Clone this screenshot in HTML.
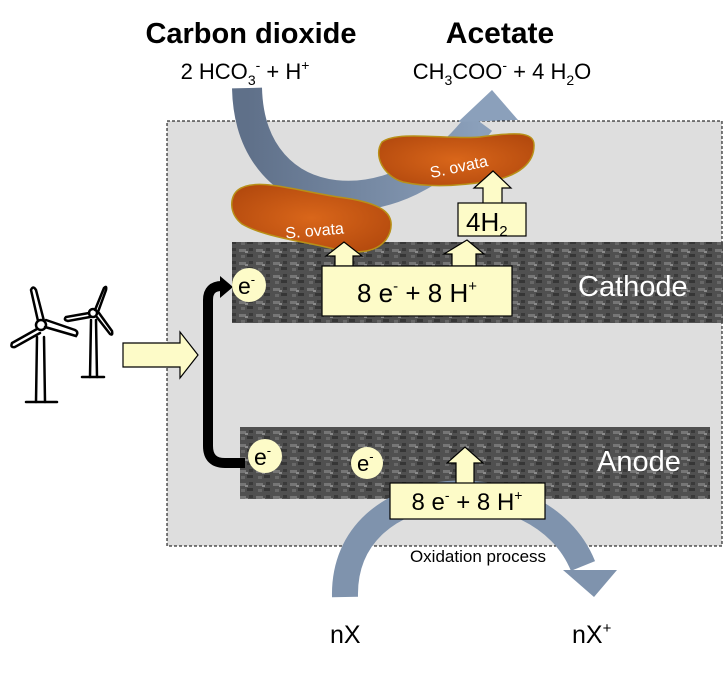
<!DOCTYPE html>
<html><head><meta charset="utf-8"><style>
body{margin:0;background:#fff;}
svg{display:block;font-family:"Liberation Sans",sans-serif;}
</style></head><body>
<svg width="723" height="676" viewBox="0 0 723 676" xmlns="http://www.w3.org/2000/svg">
<defs>
<pattern id="tex" width="17" height="13" patternUnits="userSpaceOnUse">
<rect width="17" height="13" fill="#505050"/>
<rect x="1" y="2" width="7" height="3" fill="#767676"/>
<rect x="9" y="7" width="6" height="3" fill="#363636"/>
<rect x="3" y="8" width="4" height="3" fill="#686868"/>
<rect x="11" y="1" width="4" height="3" fill="#3a3a3a"/>
<rect x="7" y="4" width="3" height="2" fill="#8a8a8a"/>
</pattern>
<linearGradient id="bl" x1="0" x2="1" y1="0" y2="0">
<stop offset="0" stop-color="#5f7089"/><stop offset="1" stop-color="#8ba0bb"/>
</linearGradient>
<radialGradient id="bac" cx="0.5" cy="0.5" r="0.6">
<stop offset="0" stop-color="#d9661a"/><stop offset="1" stop-color="#b44a0e"/>
</radialGradient>
</defs>
<rect x="167" y="121" width="555" height="425" fill="#dedede" stroke="#000" stroke-dasharray="3,2" stroke-width="1"/>
<rect x="232" y="242" width="491" height="81" fill="url(#tex)"/>
<rect x="240" y="427" width="470" height="72" fill="url(#tex)"/>
<!-- top arrow -->
<path d="M247 88 C250 220, 400 230, 480 122" fill="none" stroke="url(#bl)" stroke-width="30"/>
<polygon points="458,122 492,90 518,120" fill="#8ba0bb"/>
<!-- bottom arrow -->
<path d="M345 597 C342 470, 540 460, 583 566" fill="none" stroke="#7f93ad" stroke-width="26"/>
<polygon points="563,570 617,570 594,597" fill="#7f93ad"/>
<!-- bacteria -->
<path d="M238 190 C255 176,300 192,345 198 C385 204,395 215,390 232 C383 252,360 256,330 248 C300 241,262 236,242 224 C228 213,230 196,238 190Z" fill="url(#bac)" stroke="#b89018" stroke-width="1.5"/>
<text x="315" y="236" font-size="16" fill="#fff" transform="rotate(-5 315 236)" text-anchor="middle">S. ovata</text>
<path d="M382 142 C398 130,450 140,480 137 C512 133,535 130,534 146 C534 162,520 176,490 181 C460 186,430 188,403 182 C383 176,373 155,382 142Z" fill="url(#bac)" stroke="#b89018" stroke-width="1.5"/>
<text x="460" y="172" font-size="16" fill="#fff" transform="rotate(-12 460 172)" text-anchor="middle">S. ovata</text>
<!-- small arrows -->
<g fill="#fdfbc8" stroke="#000" stroke-width="1.2">
<polygon points="335,266 335,256 326,256 344,242 362,256 353,256 353,266"/>
<polygon points="452,266 452,254 444,254 467,240 484,254 476,254 476,266"/>
<polygon points="483,205 483,188 474,188 493,171 511,188 502,188 502,205"/>
<rect x="458" y="203" width="68" height="33"/>
<rect x="322" y="266" width="190" height="50"/>
<polygon points="456,486 456,463 447,463 465,447 483,463 474,463 474,486"/>
<rect x="390" y="483" width="155" height="36"/>
<polygon points="123,343 180,343 180,332 198,355 180,378 180,367 123,367"/>
</g>
<text x="466" y="231" font-size="26">4H<tspan font-size="15" dy="5">2</tspan></text>
<text x="417" y="302" font-size="26" text-anchor="middle">8 e<tspan font-size="15" dy="-11">-</tspan><tspan dy="11"> + 8 H</tspan><tspan font-size="15" dy="-11">+</tspan></text>
<text x="467" y="510" font-size="24" text-anchor="middle">8 e<tspan font-size="14" dy="-10">-</tspan><tspan dy="10"> + 8 H</tspan><tspan font-size="14" dy="-10">+</tspan></text>
<!-- black e arrow -->
<path d="M245 463 L225 463 Q208 463 208 446 L208 300 Q208 286 222 286" fill="none" stroke="#000" stroke-width="10"/>
<polygon points="220,276 233,287 220,298" fill="#000"/>
<g fill="#fdfbc8"><circle cx="249" cy="285" r="17"/><circle cx="265" cy="456" r="17"/><circle cx="367" cy="463" r="16"/></g>
<text x="238" y="294" font-size="23">e<tspan font-size="13" dy="-10">-</tspan></text>
<text x="254" y="465" font-size="23">e<tspan font-size="13" dy="-10">-</tspan></text>
<text x="357" y="471" font-size="22">e<tspan font-size="13" dy="-10">-</tspan></text>
<text x="578" y="296" font-size="29" fill="#fff">Cathode</text>
<text x="597" y="471" font-size="29" fill="#fff">Anode</text>
<text x="478" y="562" font-size="17" text-anchor="middle">Oxidation process</text>
<text x="251" y="43" font-size="29" font-weight="bold" text-anchor="middle">Carbon dioxide</text>
<text x="245" y="79" font-size="22" text-anchor="middle">2 HCO<tspan font-size="14" dy="6">3</tspan><tspan font-size="14" dy="-15">-</tspan><tspan dy="9"> +  H</tspan><tspan font-size="14" dy="-9">+</tspan></text>
<text x="500" y="43" font-size="30" font-weight="bold" text-anchor="middle">Acetate</text>
<text x="502" y="79" font-size="22" text-anchor="middle">CH<tspan font-size="14" dy="6">3</tspan><tspan dy="-6">COO</tspan><tspan font-size="14" dy="-9">-</tspan><tspan dy="9"> + 4 H</tspan><tspan font-size="14" dy="6">2</tspan><tspan dy="-6">O</tspan></text>
<text x="330" y="643" font-size="25">nX</text>
<text x="572" y="643" font-size="25">nX<tspan font-size="15" dy="-10">+</tspan></text>
<!-- wind turbines -->
<g fill="none" stroke="#000" stroke-width="2.5" stroke-linecap="round">
<line x1="26" y1="402" x2="57" y2="402"/>
<line x1="36" y1="402" x2="37" y2="337"/><line x1="45" y1="402" x2="44" y2="337"/>
<circle cx="41" cy="325" r="5"/>
<path d="M38 321 L31 290 Q33 285 36 290 L44 321"/>
<path d="M45 327 L76 336 Q79 332 75 330 L46 320"/>
<path d="M37 329 L12 343 Q10 348 15 347 L40 333"/>
<line x1="82" y1="377" x2="104" y2="377"/>
<line x1="90" y1="377" x2="91" y2="320"/><line x1="97" y1="377" x2="96" y2="320"/>
<circle cx="93" cy="313" r="4"/>
<path d="M95 310 L104 288 Q107 285 106 290 L98 312"/>
<path d="M96 316 L110 334 Q113 336 112 331 L99 313"/>
<path d="M89 313 L66 317 Q63 320 68 321 L90 317"/>
</g>
</svg>
</body></html>
